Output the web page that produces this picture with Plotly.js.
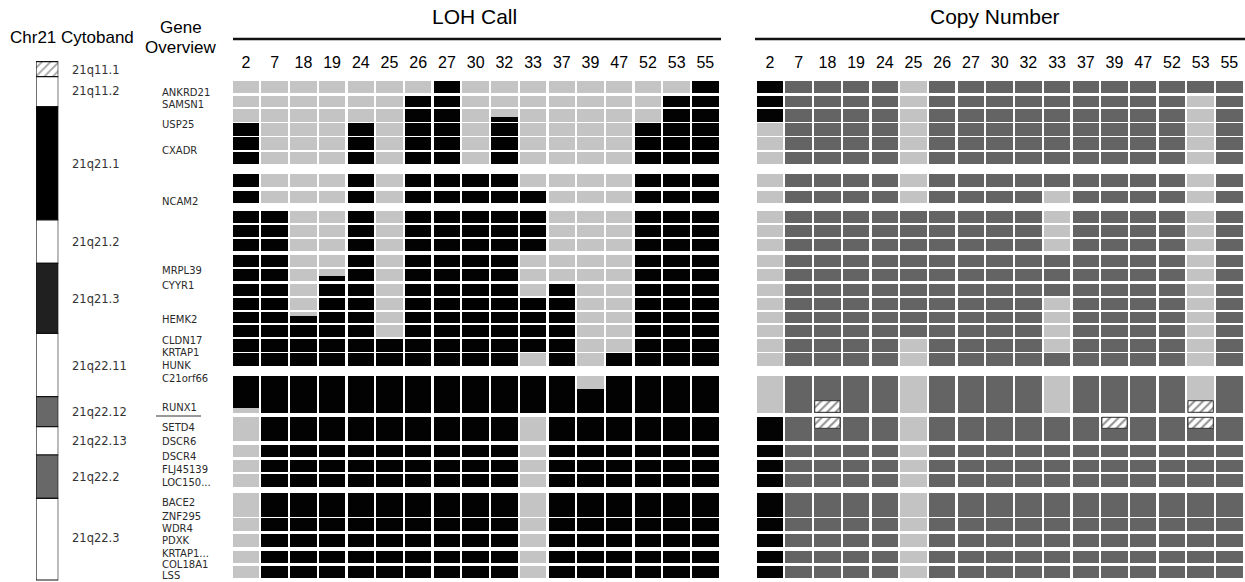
<!DOCTYPE html>
<html>
<head>
<meta charset="utf-8">
<script src="https://cdn.plot.ly/plotly-3.0.1.min.js"></script>
<style>html,body{margin:0;padding:0;background:#fff}#chart{width:1245px;height:582px}</style>
</head>
<body>
<div id="chart"></div>
<script>
// ---------- DATA ----------
const samples = ['2','7','18','19','24','25','26','27','30','32','33','37','39','47','52','53','55'];

// track segments (schematic position along chr21 q arm, top -> bottom)
const rowStart = [1,15.7,29,43.3,57.3,71.7,94.3,111,131,145,159,175,189,204,217.7,231.7,245,259.3,273.3,296,336.7,365,380,394.3,412.7,438.3,454,471,485.7];
const rowEnd   = [12.7,27.3,41.7,55.7,70,84.3,107.3,123.3,143.3,156.7,170.7,187.3,200.7,216,230,243.3,257.3,271.7,285.7,333.3,361,377.3,391.7,407.3,436.7,450.7,466.7,483.3,498.3];

// LOH call per segment, one char per sample: L = LOH, N = no LOH
const lohCalls = [
  'NNNNNNNLNNNNNNNNL','NNNNNNLLNNNNNNNLL','NNNNNNLLNNNNNNNLL',
  'LNNNLNLLNLNNNNLLL','LNNNLNLLNLNNNNLLL','LNNNLNLLNLNNNNLLL',
  'LNNNLNLLLLNNNNLLL','LNNNLNLLLLLNNNLLL',
  'LLNNLNLLLLLNNNLLL','LLNNLNLLLLLNNNLLL','LLNNLNLLLLLNNNLLL',
  'LLNNLNLLLLNNNNLLL','LLNNLNLLLLNNNNLLL','LLNLLNLLLLNLNNLLL',
  'LLNLLNLLLLLLNNLLL','LLNLLNLLLLLLNNLLL','LLLLLNLLLLLLNNLLL',
  'LLLLLLLLLLLLNNLLL','LLLLLLLLLLNLNLLLL',
  'LLLLLLLLLLLLLLLLL',
  'NLLLLLLLLLNLLLLLL','NLLLLLLLLLNLLLLLL','NLLLLLLLLLNLLLLLL','NLLLLLLLLLNLLLLLL',
  'NLLLLLLLLLNLLLLLL','NLLLLLLLLLNLLLLLL','NLLLLLLLLLNLLLLLL','NLLLLLLLLLNLLLLLL','NLLLLLLLLLNLLLLLL'
];
// LOH breakpoints inside a segment
const lohPartSample = ['32','19','18','2','39'];
const lohPartStart  = [37.3,195.7,236,328,296];
const lohPartEnd    = [41.7,200.7,243.3,333.3,309];
const lohPartCall   = ['L','L','L','N','N'];

// Copy number per segment: D = normal, K = loss, G = gain
const cnCalls = [
  'KDDDDGDDDDDDDDDDD','KDDDDGDDDDDDDDDGD','KDDDDGDDDDDDDDDGD',
  'GDDDDGDDDDDDDDDGD','GDDDDGDDDDDDDDDGD','GDDDDGDDDDDDDDDGD',
  'GDDDDGDDDDDDDDDGD','GDDDDGDDDDGDDDDGD',
  'GDDDDDDDDDGDDDDGD','GDDDDDDDDDGDDDDGD','GDDDDDDDDDGDDDDGD',
  'GDDDDDDDDDDDDDDGD','GDDDDDDDDDDDDDDGD','GDDDDDDDDDDDDDDGD',
  'GDDDDDDDDDGDDDDGD','GDDDDDDDDDGDDDDGD','GDDDDDDDDDGDDDDGD',
  'GDDDDGDDDDGDDDDGD','GDDDDGDDDDDDDDDGD',
  'GDDDDGDDDDGDDDDGD',
  'KDDDDGDDDDDDDDDDD','KDDDDGDDDDDDDDDDD','KDDDDGDDDDDDDDDDD','KDDDDGDDDDDDDDDDD',
  'KDDDDGDDDDDDDDDDD','KDDDDGDDDDDDDDDDD','KDDDDGDDDDDDDDDDD','KDDDDGDDDDDDDDDDD','KDDDDGDDDDDDDDDDD'
];
// hatched copy-number calls
const hatchSample = ['18','53','18','39','53'];
const hatchStart  = [320.7,320.7,337.3,337.3,337.3];
const hatchEnd    = [332.3,332.3,348.3,348.3,348.3];

// cytobands
const bands      = ['21q11.1','21q11.2','21q21.1','21q21.2','21q21.3','21q22.11','21q22.12','21q22.13','21q22.2','21q22.3'];
const bandStart  = [-18.3,-3.3,26.7,140,183.3,253.3,316.7,346.7,375,418.3];
const bandEnd    = [-3.3,26.7,140,183.3,253.3,316.7,346.7,375,418.3,500];
const bandStain  = ['acen','gneg','gpos100','gneg','gpos75','gneg','gpos50','gneg','gpos50','gneg'];
const bandLabelPos = [-10,11,84,162.3,219.3,286,331.7,360.7,396.7,458.3];

// genes
const genes   = ['ANKRD21','SAMSN1','USP25','CXADR','NCAM2','MRPL39','CYYR1','HEMK2','CLDN17','KRTAP1','HUNK','C21orf66','RUNX1','SETD4','DSCR6','DSCR4','FLJ45139','LOC150...','BACE2','ZNF295','WDR4','PDXK','KRTAP1...','COL18A1','LSS'];
const genePos = [12.3,24.3,44,70.7,121.7,190.7,205,239.3,260,272,285,298.3,327.7,347.3,361.7,376,389.3,402.7,422.7,436.2,448.7,460.5,473.5,484.5,495.5];

// ---------- STYLE ----------
const W = 1245, H = 582;
const lohColor = {L:'#020202', N:'#c4c4c4'};
const cnColor  = {D:'#646464', K:'#030303', G:'#c3c3c3'};
const stainColor = {gneg:'#ffffff', gpos100:'#000000', gpos75:'#202020', gpos50:'#686868', acen:'#ffffff'};
const px = v => v / W;
const py = v => 1 - v / H;

function cells(calls, cmap, xa) {
  const x=[], base=[], y=[], c=[];
  rowStart.forEach((s,i) => {
    for (let j=0;j<samples.length;j++) {
      x.push(samples[j]); base.push(s); y.push(rowEnd[i]-s); c.push(cmap[calls[i][j]]);
    }
  });
  return {type:'bar', x, y, base, width:0.92, marker:{color:c, line:{width:0}},
          xaxis:xa, yaxis:'y', hoverinfo:'skip', showlegend:false};
}

const traces = [];
traces.push(cells(lohCalls, lohColor, 'x'));
traces.push({type:'bar', x:lohPartSample, base:lohPartStart,
  y:lohPartStart.map((s,i)=>lohPartEnd[i]-s), width:0.92,
  marker:{color:lohPartCall.map(c=>lohColor[c]), line:{width:0}},
  xaxis:'x', yaxis:'y', hoverinfo:'skip', showlegend:false});
traces.push(cells(cnCalls, cnColor, 'x2'));
traces.push({type:'bar', x:hatchSample, base:hatchStart,
  y:hatchStart.map((s,i)=>hatchEnd[i]-s), width:0.88,
  marker:{color:'#ffffff', line:{width:1, color:'#333'},
          pattern:{shape:'/', fgcolor:'#222', size:6, solidity:0.35, fillmode:'overlay'}},
  xaxis:'x2', yaxis:'y', hoverinfo:'skip', showlegend:false});
traces.push({type:'bar', x:bands.map(()=> 'Chr21'), base:bandStart,
  y:bandStart.map((s,i)=>bandEnd[i]-s), width:1,
  marker:{color:bandStain.map(s=>stainColor[s]), line:{width:1.2, color:'#111'},
          pattern:{shape:bandStain.map(s=> s==='acen' ? '/' : ''), fgcolor:'#444', size:6, solidity:0.3, fillmode:'overlay'}},
  xaxis:'x3', yaxis:'y', hoverinfo:'skip', showlegend:false});

const ann = [];
const hdrFont = {family:'Liberation Sans, Arial, sans-serif', size:17, color:'#000'};
ann.push({text:'Chr21 Cytoband', x:px(8), y:py(37), xref:'paper', yref:'paper', xanchor:'left', yanchor:'middle', showarrow:false, font:hdrFont});
ann.push({text:'Gene', x:px(181), y:py(27), xref:'paper', yref:'paper', xanchor:'center', yanchor:'middle', showarrow:false, font:hdrFont});
ann.push({text:'Overview', x:px(181), y:py(47), xref:'paper', yref:'paper', xanchor:'center', yanchor:'middle', showarrow:false, font:hdrFont});
ann.push({text:'LOH Call', x:px(474), y:py(16), xref:'paper', yref:'paper', xanchor:'center', yanchor:'middle', showarrow:false, font:{family:'Liberation Sans, Arial, sans-serif', size:21, color:'#000'}});
ann.push({text:'Copy Number', x:px(995), y:py(16), xref:'paper', yref:'paper', xanchor:'center', yanchor:'middle', showarrow:false, font:{family:'Liberation Sans, Arial, sans-serif', size:21, color:'#000'}});
bands.forEach((b,i)=> ann.push({text:b, x:px(70), y:bandLabelPos[i], xref:'paper', yref:'y', xanchor:'left', yanchor:'middle', showarrow:false,
  font:{family:'DejaVu Sans, sans-serif', size:11.5, color:'#333'}}));
genes.forEach((g,i)=> ann.push({text:g, x:px(160), y:genePos[i], xref:'paper', yref:'y', xanchor:'left', yanchor:'middle', showarrow:false,
  font:{family:'DejaVu Sans, sans-serif', size:10, color:'#2a2a2a'}}));

const shapes = [
  {type:'line', xref:'paper', yref:'paper', x0:px(233), x1:px(721), y0:py(39), y1:py(39), line:{color:'#111', width:2.6}},
  {type:'line', xref:'paper', yref:'paper', x0:px(755), x1:px(1245), y0:py(39), y1:py(39), line:{color:'#111', width:2.6}},
  {type:'line', xref:'paper', yref:'paper', x0:px(156), x1:px(201), y0:py(416), y1:py(416), line:{color:'#333', width:1.2}}
];

const tickFont = {family:'Liberation Sans, Arial, sans-serif', size:16, color:'#000'};
const xCommon = {type:'category', categoryorder:'array', categoryarray:samples, side:'top', anchor:'free',
  position:py(71), showgrid:false, zeroline:false, showline:false, ticks:'', tickfont:tickFont, fixedrange:true, tickangle:0};

const layout = {
  width:W, height:H, margin:{l:0,r:0,t:0,b:0},
  paper_bgcolor:'#fff', plot_bgcolor:'#fff', barmode:'overlay', bargap:0,
  xaxis: Object.assign({}, xCommon, {domain:[px(231.6), px(719.7)]}),
  xaxis2: Object.assign({}, xCommon, {domain:[px(755.6), px(1243.7)]}),
  xaxis3: {type:'category', domain:[px(36), px(58.3)], anchor:'y', visible:false, fixedrange:true},
  yaxis: {domain:[0,1], range:[502,-80], visible:false, fixedrange:true},
  annotations: ann, shapes: shapes, showlegend:false
};

Plotly.newPlot('chart', traces, layout, {displayModeBar:false, staticPlot:true});
</script>
</body>
</html>
